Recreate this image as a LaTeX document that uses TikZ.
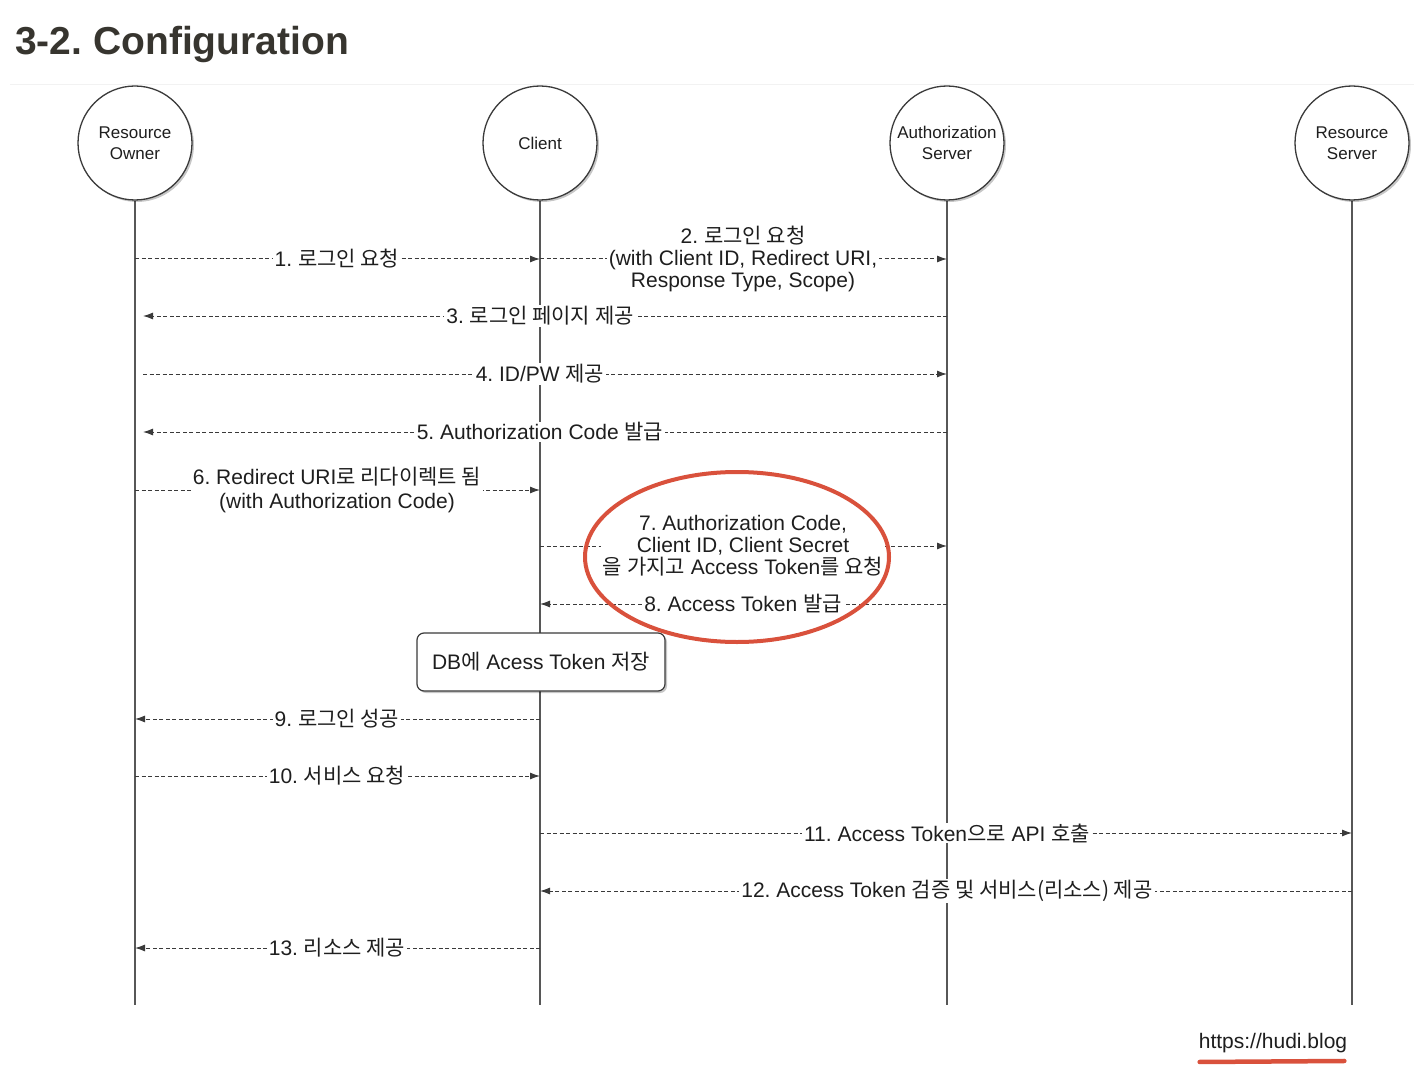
\documentclass[tikz,border=0pt]{standalone}
\usepackage{fontspec}
\setmainfont{Liberation Sans}
\newfontfamily\kofont{Noto Sans CJK KR}
\newcommand{\ko}[1]{{\kofont #1}}
\usepackage{xcolor}
\usetikzlibrary{arrows.meta,positioning,calc,shadows,backgrounds}
\definecolor{SeqInk}{HTML}{1E1E1E}
\definecolor{SeqLine}{HTML}{3A3A3A}
\definecolor{SeqRed}{HTML}{D9513C}
\definecolor{TitleInk}{HTML}{37352F}
\definecolor{SeqFaint}{HTML}{F2F2F2}
\frenchspacing

\begin{document}
\begin{tikzpicture}[x=1pt,y=-1pt,>={Latex[length=10pt,width=7pt]},
  actor/.style={circle,draw=SeqLine,line width=1.3pt,fill=white,
        minimum size=114pt,inner sep=0pt,align=center,text=SeqInk,
        font=\fontsize{17}{21}\selectfont,
        drop shadow={shadow xshift=2pt,shadow yshift=-2pt,fill=black,opacity=0.22}},
  life/.style={SeqLine!85,line width=1.5pt},
  msg/.style={->,SeqLine,line width=1pt,dash pattern=on 4pt off 2.5pt},
  msglabel/.style={fill=white,inner xsep=2pt,inner ysep=1pt,align=center,
        text=SeqInk,font=\fontsize{21}{22}\selectfont},
  note/.style={rectangle,rounded corners=7pt,draw=SeqLine,line width=1.2pt,
        fill=white,minimum width=248pt,minimum height=58pt,text=SeqInk,
        font=\fontsize{21}{22}\selectfont,
        drop shadow={shadow xshift=2pt,shadow yshift=-2pt,fill=black,opacity=0.22}}]
  \useasboundingbox (0,0) rectangle (1414,1078);
  % Heading.
  \node[anchor=base west,inner sep=0pt,text=TitleInk,
        font=\fontsize{39}{44}\selectfont\bfseries] (title) at (15,55) {3-2. Configuration};
  \draw[SeqFaint,line width=1pt] (10,85) -- (1414,85);
  % Participants.
  \node[actor] (RO) at (135,143) {Resource\\Owner};
  \node[actor] (CL) at (540,143) {Client};
  \node[actor] (AS) at (947,143) {Authorization\\Server};
  \node[actor] (RS) at (1352,143) {Resource\\Server};
  \coordinate (lifeEnd) at (0,1005);
  % Message labels.
  \node[msglabel] (m1) at (337,259) {1. \ko{로그인 요청}};
  \node[msglabel] (m2) at (743,259) {2. \ko{로그인 요청}\\(with Client ID, Redirect URI,\\Response Type, Scope)};
  \node[msglabel] (m3) at (540,316) {3. \ko{로그인 페이지 제공}};
  \node[msglabel] (m4) at (540,374) {4. ID/PW \ko{제공}};
  \node[msglabel] (m5) at (540,432) {5. Authorization Code \ko{발급}};
  \node[msglabel,font=\fontsize{21}{24}\selectfont] (m6) at (337,490)
        {6. Redirect URI\ko{로 리다이렉트 됨}\\(with Authorization Code)};
  \node[msglabel] (m7) at (743,546) {7. Authorization Code,\\Client ID, Client Secret\\\ko{을 가지고} Access Token\ko{를 요청}};
  \node[msglabel] (m8) at (743,604) {8. Access Token \ko{발급}};
  \node[note] (db) at (541,662) {DB\ko{에} Acess Token \ko{저장}};
  \node[msglabel] (m9) at (337,719) {9. \ko{로그인 성공}};
  \node[msglabel] (m10) at (337,776) {10. \ko{서비스 요청}};
  \node[msglabel] (m11) at (947,833) {11. Access Token\ko{으로} API \ko{호출}};
  \node[msglabel] (m12) at (947,891) {12. Access Token \ko{검증 및 서비스(리소스) 제공}};
  \node[msglabel] (m13) at (337,948) {13. \ko{리소스 제공}};
  % Lifelines and messages behind the labels.
  \begin{scope}[on background layer]
    \foreach \p in {RO,CL,AS,RS}
      \draw[life] (\p.south) -- (\p.south |- lifeEnd);
    \draw[msg] (RO |- m1) -- (CL |- m1);
    \draw[msg] (CL |- m2) -- (AS |- m2);
    \draw[msg] (AS |- m3) -- ([xshift=8pt]RO |- m3);
    \draw[msg] ([xshift=8pt]RO |- m4) -- (AS |- m4);
    \draw[msg] (AS |- m5) -- ([xshift=8pt]RO |- m5);
    \draw[msg] (RO |- m6) -- (CL |- m6);
    \draw[msg] (CL |- m7) -- (AS |- m7);
    \draw[msg] (AS |- m8) -- (CL |- m8);
    \draw[msg] (CL |- m9) -- (RO |- m9);
    \draw[msg] (RO |- m10) -- (CL |- m10);
    \draw[msg] (CL |- m11) -- (RS |- m11);
    \draw[msg] (RS |- m12) -- (CL |- m12);
    \draw[msg] (CL |- m13) -- (RO |- m13);
  \end{scope}
  % Highlight round steps 7 and 8.
  \draw[SeqRed,line width=4pt] (737,557) ellipse (152 and 85);
  % Source.
  \node[text=SeqInk,font=\fontsize{21}{22}\selectfont,inner sep=1pt] (src) at (1273,1043) {https://hudi.blog};
  \draw[SeqRed,line width=4.5pt,line cap=round] ([xshift=2pt,yshift=-8pt]src.south west) -- ([xshift=-4pt,yshift=-7pt]src.south east);
\end{tikzpicture}
\end{document}
